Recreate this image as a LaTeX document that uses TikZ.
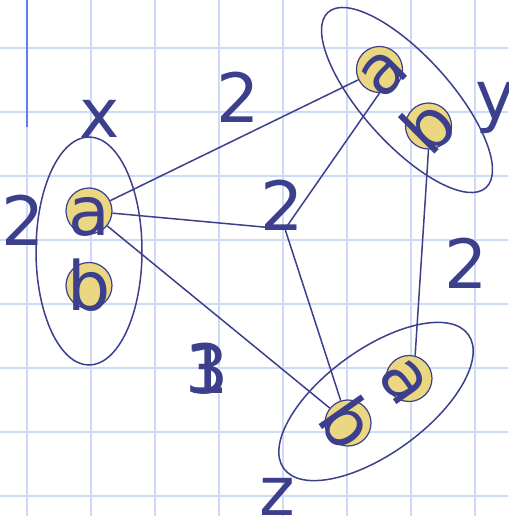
\documentclass[tikz,border=0pt]{standalone}
\usepackage{fontspec}
\setmainfont{DejaVu Sans}
\definecolor{ink}{RGB}{60,64,140}
\definecolor{dot}{RGB}{235,214,130}
\definecolor{gridc}{RGB}{205,218,248}
\definecolor{margin}{RGB}{95,125,230}
\begin{document}
\begin{tikzpicture}[x=1pt,y=-1pt,
  dotnode/.style={circle, draw=ink, fill=dot, line width=1.2pt, minimum size=46pt, inner sep=0pt},
  lettr/.style={text=ink, font=\fontsize{68}{80}\selectfont, inner sep=0pt, anchor=base},
  edge/.style={draw=ink, line width=1.5pt},
  group/.style={draw=ink, line width=1.5pt}]
\useasboundingbox (0,0) rectangle (508,516);
\fill[white] (0,0) rectangle (508,516);
\foreach \gx in {27,91,...,475} \draw[gridc, line width=2.5pt] (\gx,0) -- (\gx,516);
\foreach \gy in {48,112,...,496} \draw[gridc, line width=2.5pt] (0,\gy) -- (508,\gy);
\draw[margin, line width=2pt] (27,0) -- (27,127);
% groups
\draw[group] (89,251) ellipse [x radius=53, y radius=114];
\draw[group] (407,100) ellipse [x radius=118, y radius=44, rotate=-48];
\draw[group] (376,401.5) ellipse [x radius=114, y radius=52, rotate=36];
% dots
\node[dotnode] (xa) at (89,211) {};
\node[dotnode] (xb) at (89,285.5) {};
\node[dotnode] (ya) at (379.5,69.5) {};
\node[dotnode] (yb) at (428.5,126) {};
\node[dotnode] (za) at (409,378.5) {};
\node[dotnode] (zb) at (348,423) {};
\coordinate (j) at (285,229);
% connectors
\draw[edge] (xa) -- (ya);
\draw[edge] (xa) -- (j);
\draw[edge] (ya.south) -- (j);
\draw[edge] (j) -- (zb);
\draw[edge] (xa) -- (zb);
\draw[edge] (yb.south) -- (za.75);
% letters in dots
\node[lettr] (xat) at (89,235.5) {a};
\node[lettr] (xbt) at (89,310.5) {b};
\node[lettr, rotate=45] (yat) at (396.8,86.8) {a};
\node[lettr, rotate=45] (ybt) at (445.8,143.3) {b};
\node[lettr, rotate=-55] (zat) at (388.9,392.6) {a};
\node[lettr, rotate=-55] (zbt) at (327.9,437.1) {b};
% group labels
\node[lettr] (lx) at (100,137) {x};
\node[lettr] (ly) at (496,120) {y};
\node[lettr] (lz) at (277,515) {z};
% weights
\node[lettr] (w1) at (238,122) {2};
\node[lettr] (w2) at (23,245) {2};
\node[lettr] (w3) at (282,230) {2};
\node[lettr] (w4) at (466,288) {2};
\node[lettr] (w5) at (207,393) {1};
\node[lettr] (w6) at (207,393) {3};
\end{tikzpicture}
\end{document}
